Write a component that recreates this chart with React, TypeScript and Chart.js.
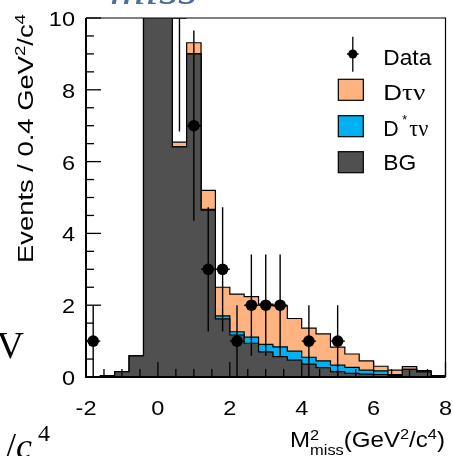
import React, { useEffect, useRef } from 'react';
import { Chart, registerables } from 'chart.js';

Chart.register(...registerables);

// Missing-mass-squared distribution, bins of 0.4 GeV^2/c^4 from -2 to 8
const binCenters = [
  -1.8, -1.4, -1.0, -0.6, -0.2, 0.2, 0.6, 1.0, 1.4, 1.8, 2.2, 2.6, 3.0,
  3.4, 3.8, 4.2, 4.6, 5.0, 5.4, 5.8, 6.2, 6.6, 7.0, 7.4, 7.8,
];
const binWidth = 0.4;

// stacked components (bottom to top): BG, D*τν, Dτν
const bgCounts = [
  0, 0.03, 0.15, 0.59, 14.2, 17.5, 6.41, 9.0, 4.65, 1.62, 1.17, 0.94, 0.7,
  0.57, 0.47, 0.36, 0.26, 0.15, 0.1, 0.08, 0.07, 0.04, 0.21, 0.14, 0.03,
];
const dStarTauNuCounts = [
  0, 0, 0, 0, 0, 0, 0, 0, 0.02, 0.08, 0.09, 0.17, 0.21,
  0.27, 0.25, 0.19, 0.19, 0.18, 0.17, 0.11, 0.1, 0.03, 0, 0, 0,
];
const dTauNuCounts = [
  0, 0, 0, 0, 0, 0, 0.13, 0.31, 0.53, 0.8, 1.05, 1.13, 1.12,
  1.14, 0.91, 0.81, 0.75, 0.5, 0.37, 0.26, 0.13, 0.12, 0.08, 0.04, 0,
];

// observed events with their uncertainties
const dataX = [-1.8, 0.6, 1.0, 1.4, 1.8, 2.2, 2.6, 3.0, 3.4, 4.2, 5.0];
const dataY = [1, 10, 7, 3, 3, 1, 2, 2, 2, 1, 1];
const dataErr = [1, 3.16, 2.65, 1.73, 1.73, 1, 1.41, 1.41, 1.41, 1, 1];

const xTickValues = [-2, 0, 2, 4, 6, 8];
const yTickValues = [0, 2, 4, 6, 8, 10];

const X_MIN = -2;
const X_MAX = 8;
const Y_MIN = 0;
const Y_MAX = 10;
const MINOR_STEP = 0.5;

const COLOR_BG = '#505050';
const COLOR_DSTAR = '#00b0f0';
const COLOR_D = '#ffb380';

const SANS = '"Liberation Sans", Arial, Helvetica, sans-serif';
const SERIF = '"Liberation Serif", "Times New Roman", serif';

type Seg = {
  t: string;
  size: number;
  dy?: number;
  family?: string;
  style?: string;
  hold?: boolean; // draw without advancing the pen (stacked sup/sub)
};

function fontOf(s: Seg) {
  return `${s.style ?? 'normal'} ${s.size}px ${s.family ?? SANS}`;
}

function richWidth(ctx: CanvasRenderingContext2D, segs: Seg[]) {
  let w = 0;
  for (const s of segs) {
    ctx.font = fontOf(s);
    if (!s.hold) w += ctx.measureText(s.t).width;
  }
  return w;
}

function drawRich(
  ctx: CanvasRenderingContext2D,
  segs: Seg[],
  x: number,
  y: number,
  opts: { align?: 'left' | 'right' | 'center'; width?: number; sx?: number; color?: string } = {}
) {
  const natural = richWidth(ctx, segs);
  const sx = opts.width ? opts.width / natural : opts.sx ?? 1;
  const total = natural * sx;
  let x0 = x;
  if (opts.align === 'right') x0 = x - total;
  else if (opts.align === 'center') x0 = x - total / 2;
  ctx.save();
  ctx.translate(x0, y);
  ctx.scale(sx, 1);
  ctx.textBaseline = 'alphabetic';
  ctx.textAlign = 'left';
  ctx.fillStyle = opts.color ?? '#000';
  let cx = 0;
  for (const s of segs) {
    ctx.font = fontOf(s);
    ctx.fillText(s.t, cx, s.dy ?? 0);
    if (!s.hold) cx += ctx.measureText(s.t).width;
  }
  ctx.restore();
}

// histogram outline points: one point per lower bin edge plus the final upper edge
function stepPoints(values: number[]) {
  const pts = binCenters.map((c, i) => ({ x: c - binWidth / 2, y: values[i] }));
  const last = binCenters.length - 1;
  pts.push({ x: binCenters[last] + binWidth / 2, y: values[last] });
  return pts;
}

const errorBarPlugin = {
  id: 'errorBars',
  beforeDatasetDraw(chart: any, args: any) {
    if (args.index !== 0) return;
    const { ctx, chartArea: a, scales } = chart;
    const xs = scales.x;
    const ys = scales.y;
    ctx.save();
    ctx.beginPath();
    ctx.rect(a.left, a.top, a.right - a.left, a.bottom - a.top);
    ctx.clip();
    ctx.strokeStyle = '#000';
    ctx.lineWidth = 1.4;
    dataX.forEach((xv, i) => {
      const px = xs.getPixelForValue(xv);
      const py = ys.getPixelForValue(dataY[i]);
      const top = ys.getPixelForValue(dataY[i] + dataErr[i]);
      const bot = ys.getPixelForValue(Math.max(0, dataY[i] - dataErr[i]));
      const l = xs.getPixelForValue(xv - binWidth / 2);
      const r = xs.getPixelForValue(xv + binWidth / 2);
      ctx.beginPath();
      ctx.moveTo(px, top);
      ctx.lineTo(px, bot);
      ctx.moveTo(l, py);
      ctx.lineTo(r, py);
      ctx.stroke();
    });
    ctx.restore();
  },
};

const axesPlugin = {
  id: 'frameAxes',
  afterDatasetsDraw(chart: any) {
    const { ctx, chartArea: a, scales } = chart;
    const xs = scales.x;
    const ys = scales.y;
    ctx.save();
    ctx.strokeStyle = '#000';
    ctx.lineWidth = 1.3;
    // inward ticks on the left axis
    for (let v = Y_MIN; v <= Y_MAX + 1e-6; v += MINOR_STEP) {
      const py = ys.getPixelForValue(v);
      const major = yTickValues.some((t) => Math.abs(t - v) < 1e-6);
      ctx.beginPath();
      ctx.moveTo(a.left, py);
      ctx.lineTo(a.left + (major ? 15 : 8), py);
      ctx.stroke();
    }
    // inward ticks on the bottom axis
    for (let v = X_MIN; v <= X_MAX + 1e-6; v += MINOR_STEP) {
      const px = xs.getPixelForValue(v);
      const major = xTickValues.some((t) => Math.abs(t - v) < 1e-6);
      ctx.beginPath();
      ctx.moveTo(px, a.bottom);
      ctx.lineTo(px, a.bottom - (major ? 15 : 8));
      ctx.stroke();
    }
    // frame
    ctx.lineWidth = 1.2;
    ctx.beginPath();
    ctx.moveTo(a.left, a.top);
    ctx.lineTo(a.right, a.top);
    ctx.lineTo(a.right, a.bottom);
    ctx.stroke();
    ctx.lineWidth = 2;
    ctx.beginPath();
    ctx.moveTo(a.left, a.top);
    ctx.lineTo(a.left, a.bottom);
    ctx.lineTo(a.right, a.bottom);
    ctx.stroke();

    // tick labels
    for (const v of yTickValues) {
      const py = ys.getPixelForValue(v);
      drawRich(ctx, [{ t: String(v), size: 21 }], a.left - 11, py + 8, { align: 'right', sx: 1.12 });
    }
    for (const v of xTickValues) {
      const px = xs.getPixelForValue(v);
      drawRich(ctx, [{ t: String(v), size: 21 }], px, a.bottom + 38, { align: 'center', sx: 1.12 });
    }
    ctx.restore();
  },
  afterDraw(chart: any) {
    const { ctx } = chart;
    ctx.save();

    // x-axis title
    drawRich(
      ctx,
      [
        { t: 'M', size: 22 },
        { t: '2', size: 15, dy: -7, hold: true },
        { t: 'miss', size: 15, dy: 8 },
        { t: '(GeV', size: 22 },
        { t: '2', size: 15, dy: -8 },
        { t: '/c', size: 22 },
        { t: '4', size: 15, dy: -8 },
        { t: ')', size: 22 },
      ],
      290,
      447,
      { width: 155 }
    );

    // y-axis title, reading upward
    ctx.save();
    ctx.translate(32.5, 263);
    ctx.rotate(-Math.PI / 2);
    drawRich(
      ctx,
      [
        { t: 'Events / 0.4 GeV', size: 22 },
        { t: '2', size: 15, dy: -8 },
        { t: '/c', size: 22 },
        { t: '4', size: 15, dy: -8 },
      ],
      0,
      0,
      { width: 249 }
    );
    ctx.restore();

    // legend
    const boxL = 338.3;
    const boxW = 25;
    const textL = 383.3;
    // Data: dot with error bar
    ctx.strokeStyle = '#000';
    ctx.lineWidth = 1.3;
    ctx.beginPath();
    ctx.moveTo(352.8, 36.7);
    ctx.lineTo(352.8, 71.7);
    ctx.moveTo(347, 54);
    ctx.lineTo(358.6, 54);
    ctx.stroke();
    ctx.fillStyle = '#000';
    ctx.beginPath();
    ctx.arc(352.8, 54, 4.6, 0, Math.PI * 2);
    ctx.fill();
    drawRich(ctx, [{ t: 'Data', size: 22 }], textL, 65, { width: 48 });

    const boxes: [string, number][] = [
      [COLOR_D, 79.3],
      [COLOR_DSTAR, 115.7],
      [COLOR_BG, 151.7],
    ];
    for (const [c, top] of boxes) {
      ctx.fillStyle = c;
      ctx.fillRect(boxL, top, boxW, 21);
      ctx.lineWidth = 1.2;
      ctx.strokeStyle = '#000';
      ctx.strokeRect(boxL, top, boxW, 21);
    }
    drawRich(
      ctx,
      [
        { t: 'D', size: 22 },
        { t: 'τν', size: 23, family: SERIF },
      ],
      textL,
      100,
      { width: 42 }
    );
    drawRich(
      ctx,
      [
        { t: 'D', size: 22 },
        { t: ' *', size: 13, dy: -12 },
        { t: ' ', size: 8 },
        { t: 'τν', size: 23, family: SERIF },
      ],
      textL,
      136,
      { width: 45 }
    );
    drawRich(ctx, [{ t: 'BG', size: 22 }], textL, 170, { width: 33 });

    // neighbouring text at the edges of the figure
    drawRich(ctx, [{ t: 'miss', size: 44, family: SERIF, style: 'italic' }], 110, 4, {
      width: 87,
      color: '#4a6f9a',
    });
    drawRich(ctx, [{ t: 'V', size: 38, family: SERIF }], 24, 358, { align: 'right' });
    drawRich(
      ctx,
      [
        { t: '/', size: 36, family: SERIF },
        { t: 'c', size: 36, family: SERIF, style: 'italic' },
      ],
      6,
      458
    );
    drawRich(ctx, [{ t: '4', size: 24, family: SERIF }], 38, 441);

    ctx.restore();
  },
};

export default function App() {
  const canvasRef = useRef<HTMLCanvasElement>(null);

  useEffect(() => {
    const canvas = canvasRef.current;
    if (!canvas) return;
    const histo = (label: string, values: number[], color: string, fill: string) => ({
      label,
      data: stepPoints(values),
      stack: 'mc',
      fill,
      stepped: true,
      backgroundColor: color,
      borderColor: '#000',
      borderWidth: 1.2,
      pointRadius: 0,
      tension: 0,
    });

    const chart = new Chart(canvas, {
      type: 'line',
      data: {
        datasets: [
          {
            label: 'Data',
            data: dataX.map((x, i) => ({ x, y: dataY[i] })),
            stack: 'data',
            showLine: false,
            pointRadius: (c: any) => (c.raw && c.raw.y >= Y_MAX ? 0 : 5.8),
            pointBackgroundColor: '#000',
            pointBorderWidth: 0,
            borderColor: '#000',
          } as any,
          histo('BG', bgCounts, COLOR_BG, 'origin'),
          histo('D*τν', dStarTauNuCounts, COLOR_DSTAR, '-1'),
          histo('Dτν', dTauNuCounts, COLOR_D, '-1'),
        ],
      },
      options: {
        responsive: false,
        animation: false,
        devicePixelRatio: 1,
        events: [],
        layout: { padding: { top: 18, right: 7.5, left: 0, bottom: 0 } },
        plugins: {
          legend: { display: false },
          tooltip: { enabled: false },
        },
        scales: {
          x: {
            type: 'linear',
            min: X_MIN,
            max: X_MAX,
            ticks: { display: false, stepSize: 2 },
            grid: { display: false },
            border: { display: false },
            afterFit: (s: any) => {
              s.height = 79;
            },
          },
          y: {
            type: 'linear',
            min: Y_MIN,
            max: Y_MAX,
            stacked: true,
            ticks: { display: false, stepSize: 2 },
            grid: { display: false },
            border: { display: false },
            afterFit: (s: any) => {
              s.width = 86;
            },
          },
        },
      } as any,
      plugins: [errorBarPlugin, axesPlugin],
    });
    return () => chart.destroy();
  }, []);

  return (
    <div style={{ position: 'fixed', left: 0, top: 0, width: 453, height: 456, background: '#fff' }}>
      <canvas ref={canvasRef} width={453} height={456} style={{ display: 'block' }} />
    </div>
  );
}
